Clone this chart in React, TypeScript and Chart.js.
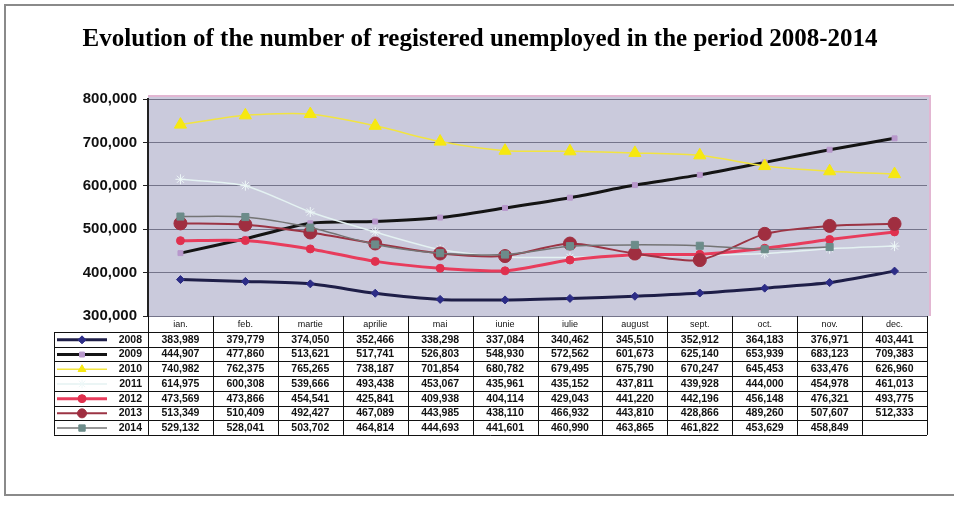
import React, { useEffect, useRef } from "react";
import { Chart, registerables } from "chart.js";
import { drawPoint } from "chart.js/helpers";

Chart.register(...registerables);

const TITLE = "Evolution of the number of registered unemployed in the period 2008-2014";
const MONTHS = ["ian.", "feb.", "martie", "aprilie", "mai", "iunie", "iulie", "august", "sept.", "oct.", "nov.", "dec."];
const YEARS = ["2008", "2009", "2010", "2011", "2012", "2013", "2014"];

const Y2008 = [383989, 379779, 374050, 352466, 338298, 337084, 340462, 345510, 352912, 364183, 376971, 403441];
const Y2009 = [444907, 477860, 513621, 517741, 526803, 548930, 572562, 601673, 625140, 653939, 683123, 709383];
const Y2010 = [740982, 762375, 765265, 738187, 701854, 680782, 679495, 675790, 670247, 645453, 633476, 626960];
const Y2011 = [614975, 600308, 539666, 493438, 453067, 435961, 435152, 437811, 439928, 444000, 454978, 461013];
const Y2012 = [473569, 473866, 454541, 425841, 409938, 404114, 429043, 441220, 442196, 456148, 476321, 493775];
const Y2013 = [513349, 510409, 492427, 467089, 443985, 438110, 466932, 443810, 428866, 489260, 507607, 512333];
const Y2014 = [529132, 528041, 503702, 464814, 444693, 441601, 460990, 463865, 461822, 453629, 458849, null];

const Y_TICKS_MIN = 300000;
const Y_TICKS_MAX = 800000;
const Y_STEP = 100000;

const fmt = (v: number | null) => (v == null ? "" : v.toLocaleString("en-US"));

const STYLES = [
  { line: "#1e1e48", point: "#2c2c86", width: 3, pstyle: "rectRot", r: 4 },
  { line: "#141414", point: "#b898cc", width: 3, pstyle: "rect", r: 3.5 },
  { line: "#f2e440", point: "#f6e810", width: 1.5, pstyle: "triangle", r: 7 },
  { line: "#e4f2f2", point: "#eef8f8", width: 1.5, pstyle: "star", r: 5 },
  { line: "#e83c5c", point: "#e0304e", width: 3, pstyle: "circle", r: 4 },
  { line: "#9c3444", point: "#a02e40", width: 2, pstyle: "circle", r: 6.5 },
  { line: "#747474", point: "#6c8c8a", width: 1.5, pstyle: "rect", r: 5 },
];
const SERIES = [Y2008, Y2009, Y2010, Y2011, Y2012, Y2013, Y2014];

export default function App() {
  const ref = useRef<HTMLCanvasElement>(null);
  useEffect(() => {
    const canvas = ref.current!;
    const bgPlugin = {
      id: "bg",
      beforeDraw(chart: any) {
        const { ctx, chartArea: a } = chart;
        ctx.save();
        ctx.fillStyle = "#ffffff";
        ctx.fillRect(0, 0, chart.width, chart.height);
        ctx.fillStyle = "#cacadc";
        ctx.fillRect(a.left, a.top - 3, a.right - a.left + 3, a.bottom - a.top + 3);
        ctx.strokeStyle = "#e2b6d2";
        ctx.lineWidth = 2;
        ctx.beginPath();
        ctx.moveTo(a.left, a.top - 3);
        ctx.lineTo(a.right + 3, a.top - 3);
        ctx.lineTo(a.right + 3, a.bottom);
        ctx.stroke();
        // scan frame
        ctx.strokeStyle = "#8a8a8a";
        ctx.lineWidth = 2;
        ctx.beginPath();
        ctx.moveTo(954, 5);
        ctx.lineTo(5, 5);
        ctx.lineTo(5, 495);
        ctx.lineTo(954, 495);
        ctx.stroke();
        // title
        ctx.fillStyle = "#000";
        ctx.font = "bold 25px 'Liberation Serif', serif";
        ctx.textAlign = "center";
        ctx.textBaseline = "middle";
        ctx.fillText(TITLE, 480, 40);
        ctx.restore();
      },
    };
    const tablePlugin = {
      id: "table",
      afterDraw(chart: any) {
        const { ctx, chartArea: a } = chart;
        const xs = chart.scales.x;
        const colW = (a.right - a.left) / MONTHS.length;
        const top = a.bottom;
        const headH = 16;
        const rowH = 14.7;
        const legL = 54;
        const bottom = top + headH + rowH * YEARS.length;
        ctx.save();
        ctx.strokeStyle = "#111";
        ctx.lineWidth = 1;
        ctx.beginPath();
        for (let i = 0; i <= MONTHS.length; i++) {
          const x = Math.round(a.left + i * colW) + 0.5;
          ctx.moveTo(x, top);
          ctx.lineTo(x, bottom);
        }
        ctx.moveTo(legL + 0.5, top + headH);
        ctx.lineTo(legL + 0.5, bottom);
        for (let j = 0; j <= YEARS.length; j++) {
          const y = Math.round(top + headH + j * rowH) + 0.5;
          ctx.moveTo(legL, y);
          ctx.lineTo(a.right, y);
        }
        ctx.stroke();
        ctx.fillStyle = "#111";
        ctx.textAlign = "center";
        ctx.textBaseline = "middle";
        ctx.font = "9px 'Liberation Sans', Arial, sans-serif";
        MONTHS.forEach((m, i) => {
          ctx.fillText(m, xs.getPixelForValue(i), top + headH / 2 + 1);
        });
        SERIES.forEach((vals, j) => {
          const y = top + headH + (j + 0.5) * rowH + 0.5;
          ctx.font = "bold 10.5px 'Liberation Sans', Arial, sans-serif";
          ctx.fillStyle = "#111";
          vals.forEach((v, i) => {
            ctx.fillText(fmt(v), xs.getPixelForValue(i), y);
          });
          const st = STYLES[j];
          ctx.strokeStyle = st.line;
          ctx.lineWidth = st.width;
          ctx.beginPath();
          ctx.moveTo(legL + 3, y);
          ctx.lineTo(legL + 53, y);
          ctx.stroke();
          ctx.fillStyle = st.point;
          ctx.strokeStyle = st.point;
          ctx.lineWidth = 1;
          drawPoint(ctx, { pointStyle: st.pstyle as any, radius: Math.min(st.r, 4.5), rotation: 0, borderWidth: 1 }, legL + 28, y);
          ctx.fillStyle = "#111";
          ctx.textAlign = "right";
          ctx.fillText(YEARS[j], a.left - 6, y);
          ctx.textAlign = "center";
        });
        ctx.restore();
      },
    };
    const chart = new Chart(canvas, {
      type: "line",
      data: {
        labels: MONTHS,
        datasets: SERIES.map((vals, j) => ({
          label: YEARS[j],
          data: vals,
          borderColor: STYLES[j].line,
          backgroundColor: STYLES[j].point,
          pointBorderColor: STYLES[j].point,
          pointBackgroundColor: STYLES[j].point,
          borderWidth: STYLES[j].width,
          pointStyle: STYLES[j].pstyle as any,
          pointRadius: STYLES[j].r,
          pointBorderWidth: 1,
          tension: 0.25,
          spanGaps: false,
          order: 7 - j,
        })),
      },
      options: {
        animation: false,
        responsive: false,
        layout: { padding: { top: 99, left: 0, right: 27, bottom: 190 } },
        plugins: { legend: { display: false }, title: { display: false }, tooltip: { enabled: false } },
        scales: {
          x: { display: false, offset: true },
          y: {
            min: Y_TICKS_MIN,
            max: Y_TICKS_MAX,
            afterFit(s: any) {
              s.width = 148;
            },
            ticks: {
              stepSize: Y_STEP,
              color: "#111",
              padding: 6,
              font: { family: "'Liberation Sans', Arial, sans-serif", size: 15, weight: "bold" },
              callback: (v: any) => Number(v).toLocaleString("en-US"),
            },
            grid: { color: "#74748a", lineWidth: 1, tickLength: 5, tickColor: "#222" },
            border: { color: "#222", width: 2 },
          },
        },
      },
      plugins: [bgPlugin, tablePlugin],
    });
    return () => chart.destroy();
  }, []);
  return (
    <div style={{ position: "fixed", left: 0, top: 0, width: 954, height: 506 }}>
      <canvas ref={ref} width={954} height={506} style={{ width: 954, height: 506 }} />
    </div>
  );
}
